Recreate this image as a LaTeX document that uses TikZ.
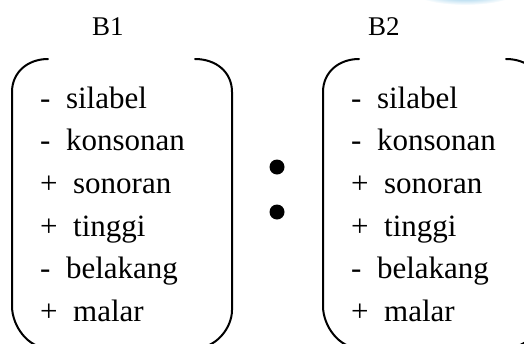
\documentclass[tikz,border=0pt]{standalone}
\usepackage{fontspec}
\setmainfont{Liberation Serif}
\begin{document}
\begin{tikzpicture}[x=1pt,y=-1pt,
  feat/.style={anchor=base west,inner sep=0pt,font=\rmfamily\fontsize{31}{37}\selectfont},
  lab/.style={anchor=base west,inner sep=0pt,font=\rmfamily\fontsize{27}{32}\selectfont},
  brk/.style={line width=2pt,line cap=round},
  dotmark/.style={circle,fill=black,inner sep=0pt,minimum size=15pt}]
\useasboundingbox (0,0) rectangle (524,343);
\begin{scope}
\clip (0,0) rectangle (524,343);
% blue shape at top right
\shade[inner color={rgb,255:red,110;green,185;blue,225},outer color=white] (465,-7) ellipse [x radius=50, y radius=12];
% brackets B1
\draw[brk] (48,59) .. controls (28,59) and (12,72) .. (12,92) -- (12,306) .. controls (12,326) and (28,348) .. (48,348);
\draw[brk] (195,59) .. controls (216,59) and (232,72) .. (232,92) -- (232,310) .. controls (232,328) and (216,348) .. (196,348);
% brackets B2
\draw[brk] (359,59) .. controls (339,59) and (323,72) .. (323,92) -- (323,306) .. controls (323,326) and (339,348) .. (359,348);
\draw[brk] (506,59) .. controls (527,59) and (543,72) .. (543,92) -- (543,310) .. controls (543,328) and (527,348) .. (507,348);
\end{scope}
% labels
\node[lab] (b1) at (92,35) {B1};
\node[lab] (b2) at (368,35) {B2};
% dots
\node[dotmark] (d1) at (277,167) {};
\node[dotmark] (d2) at (277,212) {};
% features B1
\node[feat] (a1) at (40,108) {- \ silabel};
\node[feat] (a2) at (40,150.7) {- \ konsonan};
\node[feat] (a3) at (40,193.4) {+ \ sonoran};
\node[feat] (a4) at (40,236.1) {+ \ tinggi};
\node[feat] (a5) at (40,278.8) {- \ belakang};
\node[feat] (a6) at (40,321.5) {+ \ malar};
% features B2
\node[feat] (c1) at (351,108) {- \ silabel};
\node[feat] (c2) at (351,150.7) {- \ konsonan};
\node[feat] (c3) at (351,193.4) {+ \ sonoran};
\node[feat] (c4) at (351,236.1) {+ \ tinggi};
\node[feat] (c5) at (351,278.8) {- \ belakang};
\node[feat] (c6) at (351,321.5) {+ \ malar};
\end{tikzpicture}
\end{document}
